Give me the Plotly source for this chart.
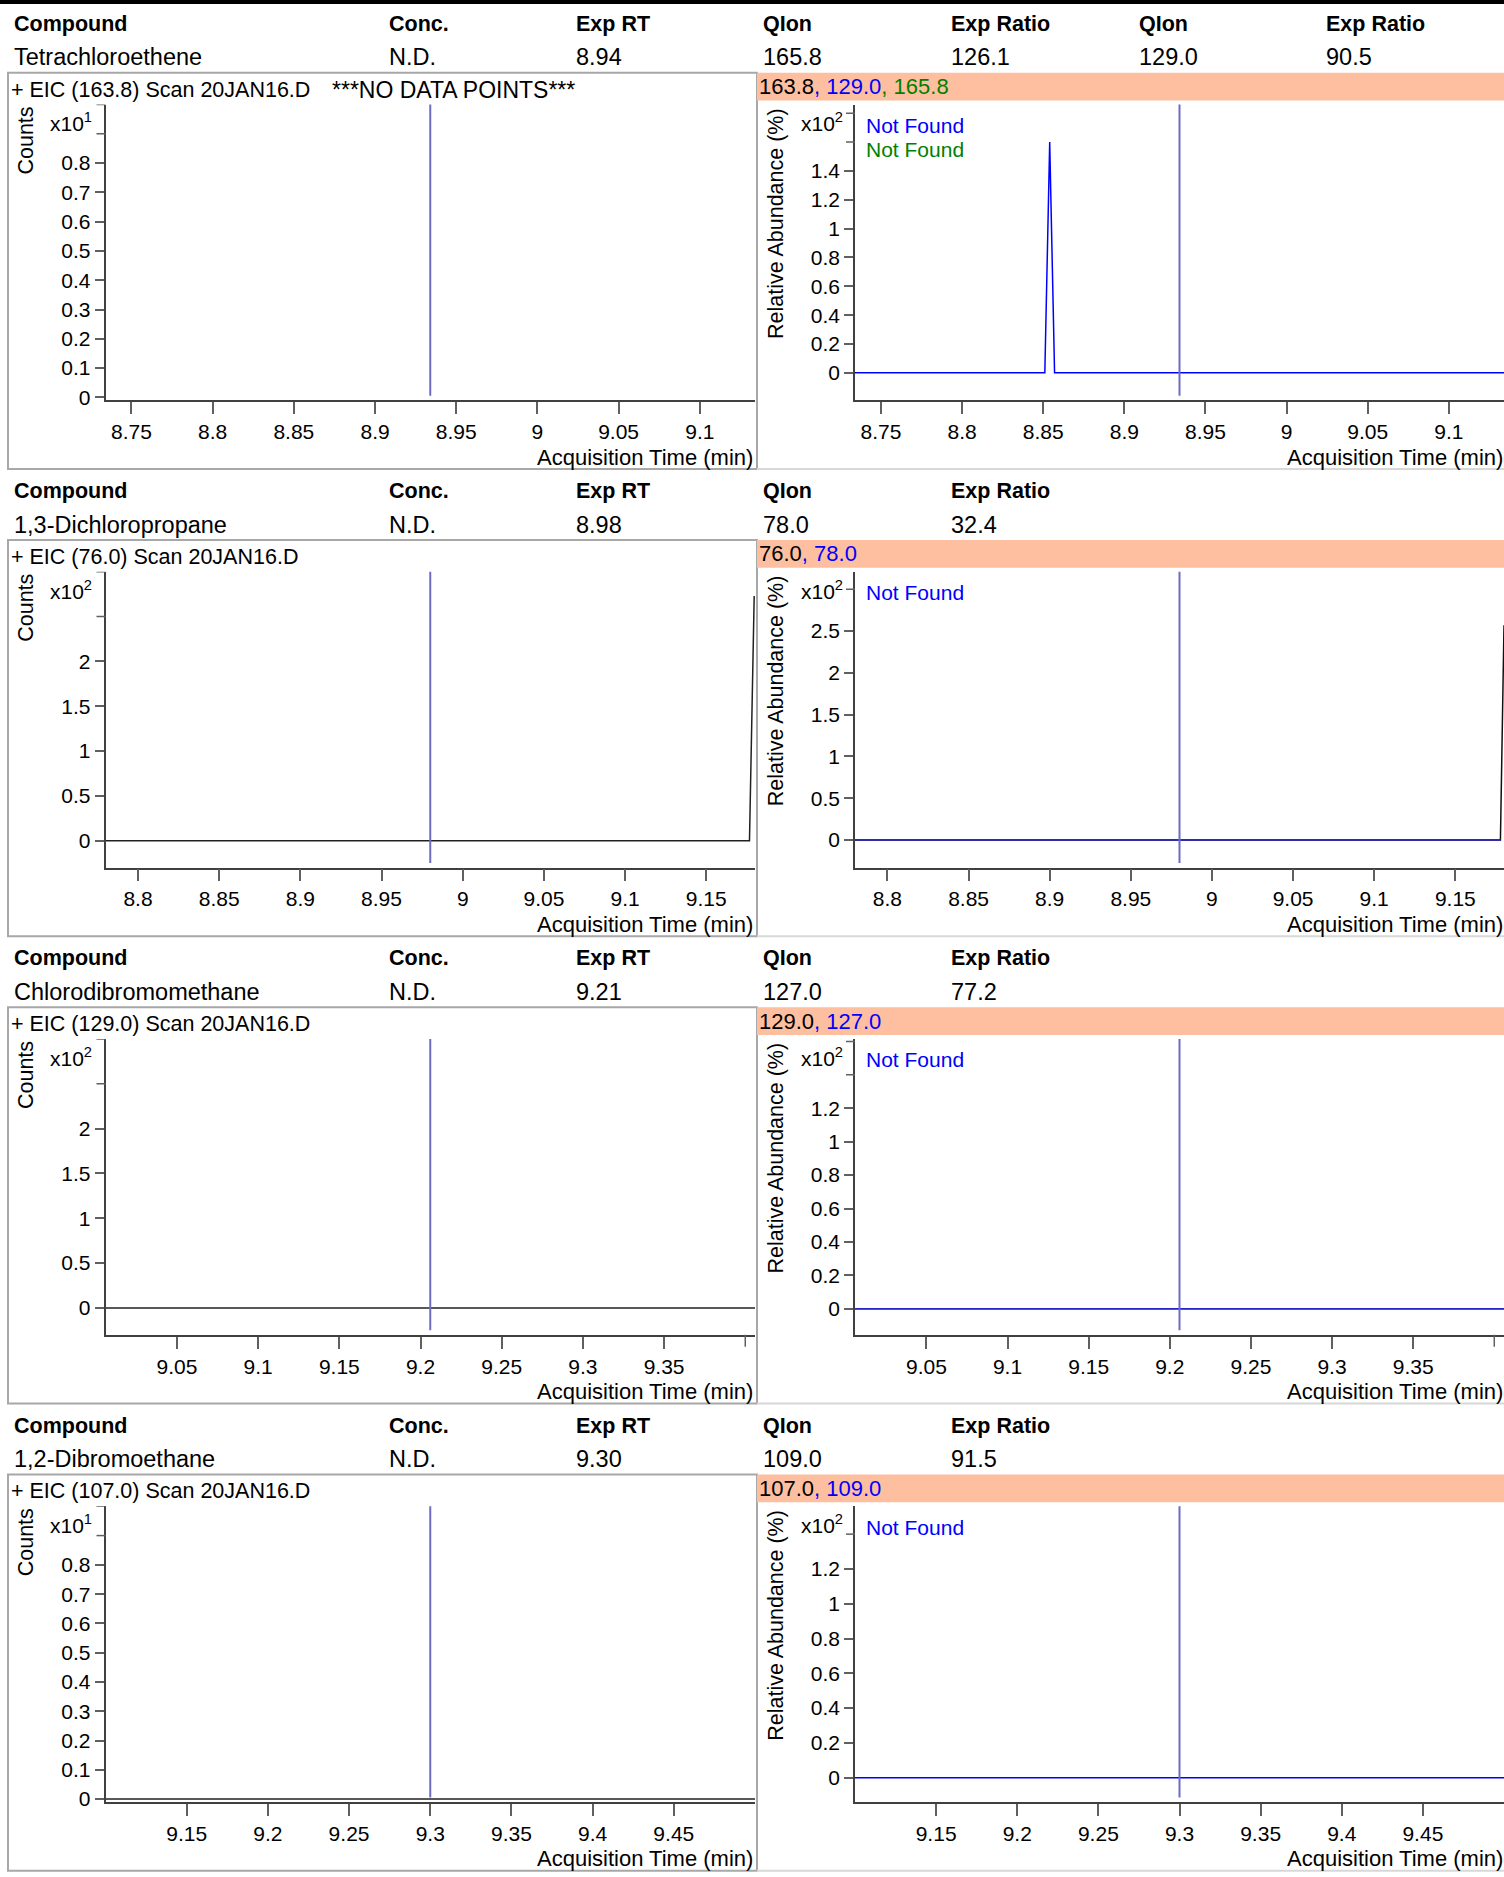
import math
import plotly.graph_objects as go

W, H = 1504, 1877
SEC = H / 4.0

# ---------------- data ----------------
header_cols = ["Compound", "Conc.", "Exp RT", "QIon", "Exp Ratio", "QIon", "Exp Ratio"]
compounds = ["Tetrachloroethene", "1,3-Dichloropropane", "Chlorodibromomethane", "1,2-Dibromoethane"]
conc = ["N.D.", "N.D.", "N.D.", "N.D."]
exp_rt = ["8.94", "8.98", "9.21", "9.30"]
qion_a = ["165.8", "78.0", "127.0", "109.0"]
ratio_a = ["126.1", "32.4", "77.2", "91.5"]
qion_b = ["129.0", None, None, None]
ratio_b = ["90.5", None, None, None]

target_ions = ["163.8", "76.0", "129.0", "107.0"]
qualifier_ions = [["129.0", "165.8"], ["78.0"], ["127.0"], ["109.0"]]
qualifier_colors = ["#0000FF", "#008000"]
eic_notes = ["***NO DATA POINTS***", "", "", ""]
not_found = [["Not Found", "Not Found"], ["Not Found"], ["Not Found"], ["Not Found"]]

rt_found = [8.934, 8.980, 9.206, 9.300]
half_window = 0.2

# left: EIC counts (scaled by 10^exp)
eic_time = [[], [8.78, 9.1766, 9.1795], [9.006, 9.406], [9.100, 9.500]]
eic_counts = [[], [0.0, 0.0, 2.73], [0.0, 0.0], [0.0, 0.0]]
eic_exp = [1, 2, 2, 1]
eic_ymin = [-0.01, -0.30, -0.30, -0.01]
eic_ymax = [1.00, 3.00, 3.00, 1.00]
eic_step = [0.1, 0.5, 0.5, 0.1]
eic_last_label = [0.8, 2.0, 2.0, 0.8]

# right: qualifier relative abundance (x10^2 %)
q_blue_time = [[8.734, 8.851, 8.854, 8.857, 9.134], [8.78, 9.178], [9.006, 9.406], [9.100, 9.500]]
q_blue_val = [[0.0, 0.0, 1.60, 0.0, 0.0], [0.0, 0.0], [0.0, 0.0], [0.0, 0.0]]
q_black_time = [[], [8.78, 9.1778, 9.180], [9.006, 9.406], []]
q_black_val = [[], [0.0, 0.0, 2.57], [0.0, 0.0], []]
q_exp = [2, 2, 2, 2]
q_ymin = [-0.19, -0.33, -0.155, -0.14]
q_ymax = [1.86, 3.21, 1.614, 1.56]
q_step = [0.2, 0.5, 0.2, 0.2]
q_last_label = [1.4, 2.5, 1.2, 1.2]

# ---------------- layout helpers ----------------
FONT = "Liberation Sans, Arial, sans-serif"
def px(x):
    return x / W
def py(y):
    return 1 - y / H
def sfx(n):
    return "" if n == 1 else str(n)

col_x = [12.4, 387, 574, 761, 949, 1137, 1323.6]
LEFT_X = (105.5, 755.0)
RIGHT_X = (855.0, 1504.0)
PLOT_TOP, PLOT_BOT = 105.0, 402.0
YTICK_LEN, XTICK_LEN = 9, 12
TICK_COLOR = "#606060"

fig = go.Figure()
annotations = []
shapes = []

def ann(x, y, text, size=21, color="black", xanchor="left", yanchor="middle", angle=0):
    annotations.append(dict(x=px(x), y=py(y), xref="paper", yref="paper", text=text,
                            showarrow=False, xanchor=xanchor, yanchor=yanchor,
                            textangle=angle, font=dict(family=FONT, size=size, color=color)))

def yticks(ymax, step, last):
    n = int(math.floor(ymax / step + 1e-6))
    vals = [round(i * step, 4) for i in range(n + 1)]
    major = [v for v in vals if v <= last + 1e-9]
    minor = [v for v in vals if v > last + 1e-9]
    return major, [f"{v:g}" for v in major], minor

def xticks(lo, hi):
    major, minor = [], []
    k = math.ceil((lo + 0.005) / 0.05)
    while k * 0.05 <= hi - 0.001:
        v = round(k * 0.05, 4)
        (major if hi - v > 0.015 else minor).append(v)
        k += 1
    return major, [f"{v:g}" for v in major], minor

def unlabeled_ticks(xa, ya, xvals, yvals, width_px):
    height_px = PLOT_BOT - PLOT_TOP
    for v in yvals:
        shapes.append(dict(type="line", xref=f"{xa} domain", yref=ya, x0=-YTICK_LEN / width_px, x1=0,
                           y0=v, y1=v, line=dict(color=TICK_COLOR, width=1.5)))
    for v in xvals:
        shapes.append(dict(type="line", xref=xa, yref=f"{ya} domain", x0=v, x1=v,
                           y0=-XTICK_LEN / height_px, y1=0, line=dict(color=TICK_COLOR, width=1.5)))

axis_common = dict(showgrid=False, zeroline=False, showline=True, linecolor="#404040",
                   linewidth=1.5, ticks="outside", tickcolor=TICK_COLOR, tickwidth=1.5,
                   tickmode="array",
                   tickfont=dict(family=FONT, size=21, color="black"), fixedrange=True)

# top rule
shapes.append(dict(type="rect", xref="paper", yref="paper", x0=0, x1=1, y0=py(0), y1=py(4),
                   fillcolor="black", line=dict(width=0)))

for k in range(4):
    S = k * SEC
    row_vals = [compounds[k], conc[k], exp_rt[k], qion_a[k], ratio_a[k], qion_b[k], ratio_b[k]]
    for c, (hx, hv) in enumerate(zip(header_cols, row_vals)):
        if hv is None:
            continue
        ann(col_x[c], S + 24, f"<b>{hx}</b>", size=21.5)
        ann(col_x[c], S + 57.5, hv, size=23.5)

    shapes.append(dict(type="rect", xref="paper", yref="paper", x0=px(8), x1=px(757),
                       y0=py(S + 73), y1=py(S + 471), line=dict(color="#a8a8a8", width=2)))
    shapes.append(dict(type="rect", xref="paper", yref="paper", x0=px(757), x1=px(1504),
                       y0=py(S + 73), y1=py(S + 101), fillcolor="#FDBF9F", line=dict(width=0)))
    shapes.append(dict(type="line", xref="paper", yref="paper", x0=px(757), x1=1,
                       y0=py(S + 471), y1=py(S + 471), line=dict(color="#d8d8d8", width=2)))

    ann(9, S + 90, f"+ EIC ({target_ions[k]}) Scan 20JAN16.D", size=21.5)
    if eic_notes[k]:
        ann(330, S + 90, eic_notes[k], size=23)
    ann(26, S + 105, "Counts", size=21.5, xanchor="center", yanchor="top", angle=-90)
    ann(94, S + 123, f"x10<sup>{eic_exp[k]}</sup>", size=21, xanchor="right")
    ann(755, S + 459, "Acquisition Time (min)", size=22, xanchor="right")
    ann(1505, S + 459, "Acquisition Time (min)", size=22, xanchor="right")
    ion_txt = target_ions[k] + "".join(
        f"<span style='color:{qualifier_colors[i]}'>, {q}</span>" for i, q in enumerate(qualifier_ions[k]))
    ann(757, S + 87, ion_txt, size=22)
    ann(776, S + 107, "Relative Abundance (%)", size=21.5, xanchor="center", yanchor="top", angle=-90)
    ann(845, S + 123, f"x10<sup>{q_exp[k]}</sup>", size=21, xanchor="right")
    for i, nf in enumerate(not_found[k]):
        ann(864, S + 126 + 24 * i, nf, size=21, color=qualifier_colors[i])

    lo, hi = rt_found[k] - half_window, rt_found[k] + half_window
    xv, xt, xm = xticks(lo, hi)
    ydom = [py(S + PLOT_BOT), py(S + PLOT_TOP)]

    # left axes
    n = sfx(2 * k + 1)
    yv, yt, ym = yticks(eic_ymax[k], eic_step[k], eic_last_label[k])
    fig.update_layout(**{
        f"xaxis{n}": dict(domain=[px(LEFT_X[0]), px(LEFT_X[1])], anchor=f"y{n}", range=[lo, hi],
                          tickvals=xv, ticktext=xt, ticklen=XTICK_LEN, **axis_common),
        f"yaxis{n}": dict(domain=ydom, anchor=f"x{n}", range=[eic_ymin[k], eic_ymax[k]],
                          tickvals=yv, ticktext=yt, ticklen=YTICK_LEN, **axis_common),
    })
    unlabeled_ticks(f"x{n}", f"y{n}", xm, ym, LEFT_X[1] - LEFT_X[0])
    if eic_time[k]:
        fig.add_trace(go.Scatter(x=eic_time[k], y=eic_counts[k], xaxis=f"x{n}", yaxis=f"y{n}",
                                 mode="lines", line=dict(color="#202020", width=1.5), hoverinfo="skip"))
    shapes.append(dict(type="line", xref=f"x{n}", yref=f"y{n} domain", x0=rt_found[k], x1=rt_found[k],
                       y0=0.015, y1=1, line=dict(color="#6c6cc4", width=2)))

    # right axes
    m = sfx(2 * k + 2)
    yv, yt, ym = yticks(q_ymax[k], q_step[k], q_last_label[k])
    fig.update_layout(**{
        f"xaxis{m}": dict(domain=[px(RIGHT_X[0]), px(RIGHT_X[1])], anchor=f"y{m}", range=[lo, hi],
                          tickvals=xv, ticktext=xt, ticklen=XTICK_LEN, **axis_common),
        f"yaxis{m}": dict(domain=ydom, anchor=f"x{m}", range=[q_ymin[k], q_ymax[k]],
                          tickvals=yv, ticktext=yt, ticklen=YTICK_LEN, **axis_common),
    })
    unlabeled_ticks(f"x{m}", f"y{m}", xm, ym, RIGHT_X[1] - RIGHT_X[0])
    if q_black_time[k]:
        fig.add_trace(go.Scatter(x=q_black_time[k], y=q_black_val[k], xaxis=f"x{m}", yaxis=f"y{m}",
                                 mode="lines", line=dict(color="#101010", width=1.5), hoverinfo="skip"))
    blue = "#0000FF" if k in (0, 3) else "#2424c8"
    fig.add_trace(go.Scatter(x=q_blue_time[k], y=q_blue_val[k], xaxis=f"x{m}", yaxis=f"y{m}",
                             mode="lines", line=dict(color=blue, width=1.5), hoverinfo="skip"))
    shapes.append(dict(type="line", xref=f"x{m}", yref=f"y{m} domain", x0=rt_found[k], x1=rt_found[k],
                       y0=0.015, y1=1, line=dict(color="#6c6cc4", width=2)))

fig.update_layout(width=W, height=H, margin=dict(l=0, r=0, t=0, b=0), autosize=False,
                  paper_bgcolor="white", plot_bgcolor="white", showlegend=False,
                  annotations=annotations, shapes=shapes, font=dict(family=FONT))

fig.write_html("out.html", config={"displayModeBar": False},
               post_script="document.body.style.margin='0';document.body.style.overflow='hidden';")
